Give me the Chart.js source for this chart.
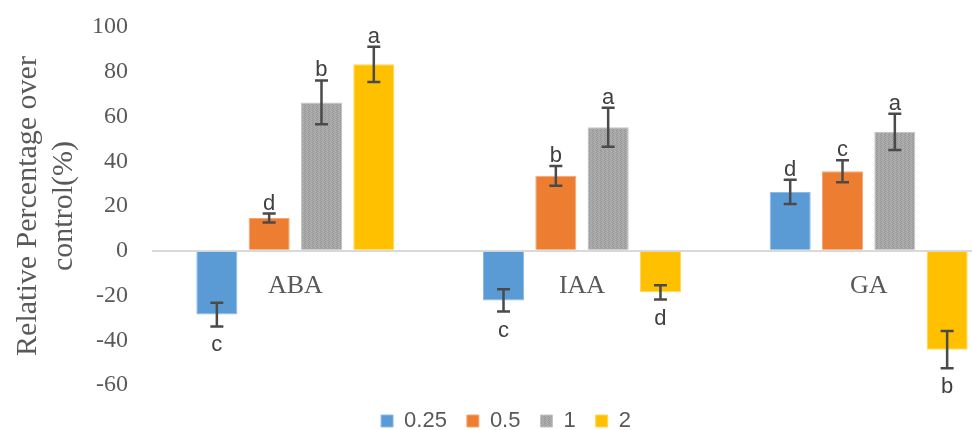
<!DOCTYPE html>
<html>
<head>
<meta charset="utf-8">
<script src="https://cdn.jsdelivr.net/npm/chart.js@4/dist/chart.umd.min.js"></script>
<style>
  html, body { margin: 0; padding: 0; background: #fff; overflow: hidden; }
  #wrap { width: 1018px; height: 430px; }
</style>
</head>
<body>
<div id="wrap"><canvas id="c" width="1018" height="430"></canvas></div>
<script>
// Hormone treatments along the category axis
const categories = ['ABA', 'IAA', 'GA'];
// Concentration series names
const seriesNames = ['0.25', '0.5', '1', '2'];

// Relative percentage over control (%)
const values025 = [-28.5, -22.2, 26.3];
const values05  = [14.6, 33.5, 35.5];
const values1   = [66.3, 55.2, 53.1];
const values2   = [83.3, -18.6, -44.2];

// Standard errors
const err025 = [5.3, 5.0, 5.4];
const err05  = [2.0, 4.4, 4.9];
const err1   = [9.8, 8.7, 8.1];
const err2   = [7.9, 3.2, 8.3];

// Significance letters
const sig025 = ['c', 'c', 'd'];
const sig05  = ['d', 'b', 'c'];
const sig1   = ['b', 'a', 'a'];
const sig2   = ['a', 'd', 'b'];

// Y axis ticks
const yTicks = [-60, -40, -20, 0, 20, 40, 60, 80, 100];

const allValues = [values025, values05, values1, values2];
const allErrors = [err025, err05, err1, err2];
const allLetters = [sig025, sig05, sig1, sig2];

const SERIF = '"Liberation Serif", "Times New Roman", serif';
const SANS = '"Liberation Sans", Arial, sans-serif';

// fine dithered grey fill used for the "1" series
function ditherGrey() {
  const t = document.createElement('canvas');
  t.width = 4; t.height = 4;
  const g = t.getContext('2d');
  g.fillStyle = '#a7a7a7';
  g.fillRect(0, 0, 4, 4);
  g.fillStyle = '#969696';
  [[0,0],[1,1],[0,2],[1,3]].forEach(([x, y]) => g.fillRect(x, y, 1, 1));
  g.fillStyle = '#b2b2b2';
  [[1,0],[3,3],[2,2],[0,1]].forEach(([x, y]) => g.fillRect(x, y, 1, 1));
  return document.getElementById('c').getContext('2d').createPattern(t, 'repeat');
}

const fills = ['#5B9BD5', '#ED7D31', ditherGrey(), '#FFC000'];
const edges = ['#8dbbe6', '#f5a877', '#c4c4c4', '#ffd75c'];

// Error bars, significance letters and in-plot category names
const annotate = {
  id: 'annotate',
  afterDatasetsDraw(chart) {
    const ctx = chart.ctx;
    const y = chart.scales.y;
    ctx.save();
    chart.data.datasets.forEach((ds, di) => {
      const meta = chart.getDatasetMeta(di);
      meta.data.forEach((bar, i) => {
        const v = ds.data[i];
        const e = allErrors[di][i];
        const x = bar.x;
        const yHi = y.getPixelForValue(v + e);
        const yLo = y.getPixelForValue(v - e);
        ctx.strokeStyle = '#4a4a4a';
        ctx.lineWidth = 2.5;
        ctx.beginPath();
        ctx.moveTo(x, yHi); ctx.lineTo(x, yLo);
        ctx.moveTo(x - 6.5, yHi); ctx.lineTo(x + 6.5, yHi);
        ctx.moveTo(x - 6.5, yLo); ctx.lineTo(x + 6.5, yLo);
        ctx.stroke();

        ctx.fillStyle = '#404040';
        ctx.font = '22px ' + SANS;
        ctx.textAlign = 'center';
        ctx.textBaseline = 'alphabetic';
        const letter = allLetters[di][i];
        if (v >= 0) ctx.fillText(letter, x, yHi - 4);
        else ctx.fillText(letter, x, yLo + 25);
      });
    });
    // category names just under the zero line
    const x = chart.scales.x;
    const y0 = y.getPixelForValue(0);
    ctx.fillStyle = '#595959';
    ctx.font = '26px ' + SERIF;
    ctx.textAlign = 'center';
    ctx.textBaseline = 'alphabetic';
    categories.forEach((c, i) => ctx.fillText(c, x.getPixelForValue(i), y0 + 42));
    ctx.restore();
  }
};

new Chart(document.getElementById('c'), {
  type: 'bar',
  data: {
    labels: categories,
    datasets: seriesNames.map((name, i) => ({
      label: name,
      data: allValues[i],
      backgroundColor: fills[i],
      borderColor: edges[i],
      borderWidth: 1,
      categoryPercentage: 0.73,
      barPercentage: 0.785
    }))
  },
  options: {
    responsive: false,
    animation: false,
    layout: { padding: { top: 27, right: 6, left: 0, bottom: -12 } },
    plugins: {
      legend: {
        position: 'bottom',
        labels: {
          boxWidth: 12,
          boxHeight: 12,
          padding: 20,
          color: '#595959',
          font: { family: SANS, size: 22 }
        }
      },
      tooltip: { enabled: false }
    },
    scales: {
      x: {
        display: true,
        afterFit: s => { s.height = 5; },
        border: { display: false },
        grid: { display: false },
        ticks: { display: false }
      },
      y: {
        min: -60,
        max: 100,
        afterBuildTicks: s => { s.ticks = yTicks.map(v => ({ value: v })); },
        afterFit: s => { s.width = 152; s.paddingTop = 0; s.paddingBottom = 0; },
        border: { display: false },
        grid: {
          drawTicks: false,
          color: c => (c.tick && c.tick.value === 0) ? '#d9d9d9' : 'rgba(0,0,0,0)',
          lineWidth: 2
        },
        ticks: {
          padding: 24,
          color: '#595959',
          font: { family: SERIF, size: 24 }
        },
        title: {
          display: true,
          text: ['Relative Percentage over', 'control(%)'],
          color: '#595959',
          padding: { top: 11, bottom: 0 },
          font: { family: SERIF, size: 30, lineHeight: 1.17 }
        }
      }
    }
  },
  plugins: [annotate]
});
</script>
</body>
</html>
